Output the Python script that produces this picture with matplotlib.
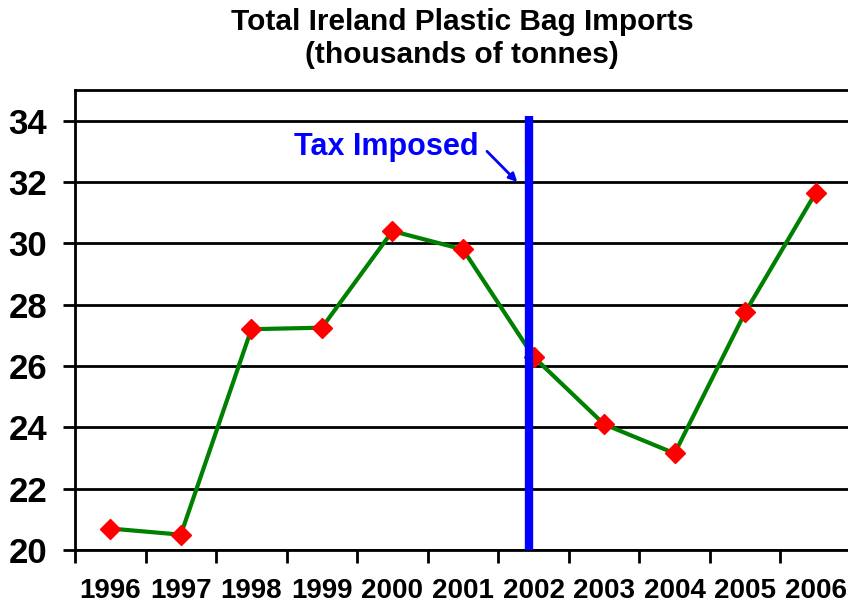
import matplotlib.pyplot as plt
import numpy as np

# data
years = ['1996', '1997', '1998', '1999', '2000', '2001',
         '2002', '2003', '2004', '2005', '2006']
imports_kt = [20.7, 20.5, 27.2, 27.25, 30.4, 29.8,
              26.3, 24.1, 23.15, 27.75, 31.65]
y_ticks = [20, 22, 24, 26, 28, 30, 32, 34]
tax_year = '2002'

plt.rcParams['font.family'] = ['Liberation Sans', 'DejaVu Sans']

W, H = 848, 603
fig = plt.figure(figsize=(W / 100, H / 100), dpi=100)
ax = fig.add_axes([75 / W, 53 / H, 776 / W, 460 / H])

x = np.arange(len(years))

# horizontal grid lines
for v in y_ticks:
    ax.axhline(v, color='black', lw=2, zorder=1)

ax.plot(x, imports_kt, color='#008000', lw=3, zorder=3,
        marker='D', markersize=10, markerfacecolor='red', markeredgecolor='red')

# tax line, just left of the 2002 point
tx = years.index(tax_year) - 0.06
ax.plot([tx, tx], [20, 34.15], color='#0000ff', lw=6, zorder=4, solid_capstyle='butt')

ax.text(tx - 0.72, 33.15, 'Tax Imposed', color='#0000ff', fontsize=22,
        fontweight='bold', ha='right', va='center')
ax.annotate('', xy=(tx - 0.17, 32.0), xytext=(tx - 0.6, 33.0),
            arrowprops=dict(arrowstyle='-|>', color='#0000ff', lw=2,
                            mutation_scale=12, shrinkA=0, shrinkB=0))

ax.set_xlim(-0.5, len(years) - 0.5)
ax.set_ylim(20, 35)

ax.set_yticks(y_ticks)
ax.set_yticklabels([str(v) for v in y_ticks], fontsize=25, fontweight='bold')
ax.tick_params(axis='y', length=9, width=2, pad=11)

# category axis: ticks between the years, labels centred
ax.set_xticks(np.arange(len(years) + 1) - 0.5)
ax.set_xticklabels([])
ax.set_xticks(x, minor=True)
ax.set_xticklabels(years, minor=True, fontsize=20, fontweight='bold')
ax.tick_params(axis='x', which='major', length=9, width=2)
ax.tick_params(axis='x', which='minor', length=0, pad=20)

for side in ['left', 'top', 'bottom']:
    ax.spines[side].set_linewidth(2)
ax.spines['right'].set_visible(False)

fig.text(462 / W, 1 - 30 / H, 'Total Ireland Plastic Bag Imports',
         ha='center', va='baseline', fontsize=21.5, fontweight='bold')
fig.text(462 / W, 1 - 63 / H, '(thousands of tonnes)',
         ha='center', va='baseline', fontsize=21.5, fontweight='bold')

fig.savefig('out.png', dpi=100)
